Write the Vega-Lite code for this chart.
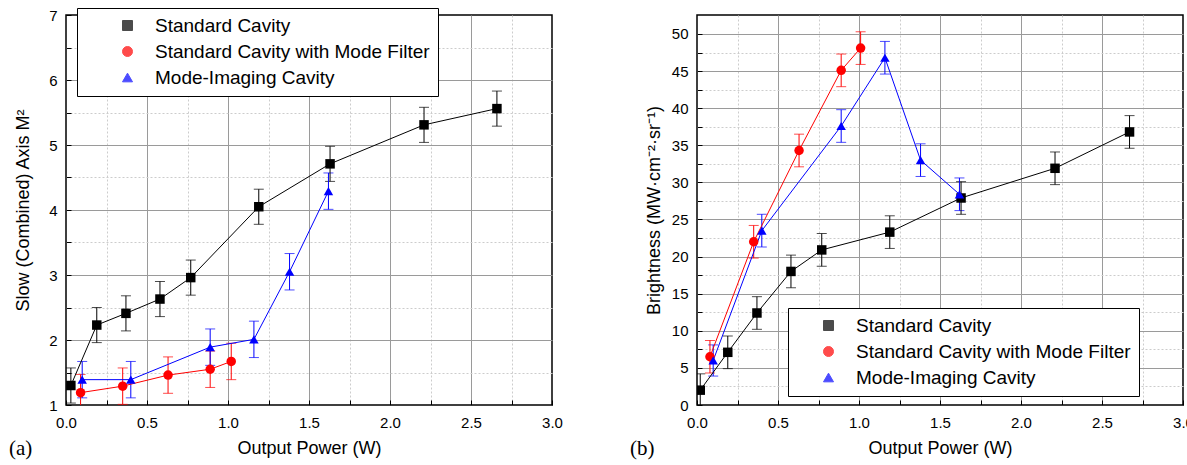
{
  "$schema": "https://vega.github.io/schema/vega-lite/v6.json",
  "padding": {"left": 8, "top": 6, "right": 0, "bottom": 0},
  "background": "white",
  "datasets": {
    "slow": [
      {"s": "Standard Cavity", "p": 0.03, "v": 1.30, "e": 0.27},
      {"s": "Standard Cavity", "p": 0.19, "v": 2.23, "e": 0.27},
      {"s": "Standard Cavity", "p": 0.37, "v": 2.41, "e": 0.27},
      {"s": "Standard Cavity", "p": 0.58, "v": 2.63, "e": 0.27},
      {"s": "Standard Cavity", "p": 0.77, "v": 2.96, "e": 0.27},
      {"s": "Standard Cavity", "p": 1.19, "v": 4.05, "e": 0.27},
      {"s": "Standard Cavity", "p": 1.63, "v": 4.71, "e": 0.27},
      {"s": "Standard Cavity", "p": 2.21, "v": 5.31, "e": 0.27},
      {"s": "Standard Cavity", "p": 2.66, "v": 5.56, "e": 0.27},
      {"s": "Standard Cavity with Mode Filter", "p": 0.09, "v": 1.19, "e": 0.28},
      {"s": "Standard Cavity with Mode Filter", "p": 0.35, "v": 1.29, "e": 0.28},
      {"s": "Standard Cavity with Mode Filter", "p": 0.63, "v": 1.46, "e": 0.28},
      {"s": "Standard Cavity with Mode Filter", "p": 0.89, "v": 1.55, "e": 0.28},
      {"s": "Standard Cavity with Mode Filter", "p": 1.02, "v": 1.67, "e": 0.28},
      {"s": "Mode-Imaging Cavity", "p": 0.10, "v": 1.39, "e": 0.28},
      {"s": "Mode-Imaging Cavity", "p": 0.40, "v": 1.39, "e": 0.28},
      {"s": "Mode-Imaging Cavity", "p": 0.89, "v": 1.89, "e": 0.28},
      {"s": "Mode-Imaging Cavity", "p": 1.16, "v": 2.01, "e": 0.28},
      {"s": "Mode-Imaging Cavity", "p": 1.38, "v": 3.05, "e": 0.28},
      {"s": "Mode-Imaging Cavity", "p": 1.62, "v": 4.29, "e": 0.28}
    ],
    "bright": [
      {"s": "Standard Cavity", "p": 0.02, "v": 2.0, "e": 2.2},
      {"s": "Standard Cavity", "p": 0.19, "v": 7.1, "e": 2.2},
      {"s": "Standard Cavity", "p": 0.37, "v": 12.4, "e": 2.2},
      {"s": "Standard Cavity", "p": 0.58, "v": 18.0, "e": 2.2},
      {"s": "Standard Cavity", "p": 0.77, "v": 20.9, "e": 2.2},
      {"s": "Standard Cavity", "p": 1.19, "v": 23.3, "e": 2.2},
      {"s": "Standard Cavity", "p": 1.63, "v": 27.9, "e": 2.2},
      {"s": "Standard Cavity", "p": 2.21, "v": 31.9, "e": 2.2},
      {"s": "Standard Cavity", "p": 2.67, "v": 36.8, "e": 2.2},
      {"s": "Standard Cavity with Mode Filter", "p": 0.08, "v": 6.5, "e": 2.2},
      {"s": "Standard Cavity with Mode Filter", "p": 0.35, "v": 22.0, "e": 2.2},
      {"s": "Standard Cavity with Mode Filter", "p": 0.63, "v": 34.3, "e": 2.2},
      {"s": "Standard Cavity with Mode Filter", "p": 0.89, "v": 45.1, "e": 2.2},
      {"s": "Standard Cavity with Mode Filter", "p": 1.01, "v": 48.1, "e": 2.2},
      {"s": "Mode-Imaging Cavity", "p": 0.10, "v": 6.0, "e": 2.1},
      {"s": "Mode-Imaging Cavity", "p": 0.40, "v": 23.5, "e": 2.2},
      {"s": "Mode-Imaging Cavity", "p": 0.89, "v": 37.6, "e": 2.2},
      {"s": "Mode-Imaging Cavity", "p": 1.16, "v": 46.8, "e": 2.2},
      {"s": "Mode-Imaging Cavity", "p": 1.38, "v": 33.0, "e": 2.2},
      {"s": "Mode-Imaging Cavity", "p": 1.62, "v": 28.4, "e": 2.2}
    ]
  },
  "hconcat": [
    {
      "width": 486,
      "height": 390,
      "data": {"name": "slow"},
      "title": {"text": "(a)", "orient": "bottom", "anchor": "start", "frame": "group", "font": "Liberation Serif", "fontSize": 21, "fontWeight": "normal", "color": "black", "dx": -57, "offset": -19},
      "encoding": {
        "x": {"field": "p", "type": "quantitative", "scale": {"domain": [0, 3], "nice": false, "zero": false},
          "axis": {"orient": "bottom", "title": "Output Power (W)",
            "values": [0, 0.25, 0.5, 0.75, 1, 1.25, 1.5, 1.75, 2, 2.25, 2.5, 2.75, 3],
            "labelExpr": "datum.value % 0.5 === 0 ? format(datum.value, '.1f') : ''",
            "grid": true,
            "gridColor": {"condition": {"test": "datum.value % 0.5 !== 0", "value": "#cccccc"}, "value": "#9a9a9a"},
            "gridDash": {"condition": {"test": "datum.value % 0.5 !== 0", "value": [2, 2]}, "value": []},
            "gridOpacity": {"condition": {"test": "datum.value <= 0 || datum.value >= 3", "value": 0}, "value": 1},
            "labelPadding": 15, "titlePadding": 9}},
        "y": {"field": "v", "type": "quantitative", "scale": {"domain": [1, 7], "nice": false, "zero": false},
          "axis": {"orient": "left", "title": "Slow (Combined) Axis M²",
            "values": [1, 1.5, 2, 2.5, 3, 3.5, 4, 4.5, 5, 5.5, 6, 6.5, 7],
            "labelExpr": "datum.value % 1 === 0 ? format(datum.value, 'd') : ''",
            "grid": true,
            "gridColor": {"condition": {"test": "datum.value % 1 !== 0", "value": "#cccccc"}, "value": "#9a9a9a"},
            "gridDash": {"condition": {"test": "datum.value % 1 !== 0", "value": [2, 2]}, "value": []},
            "gridOpacity": {"condition": {"test": "datum.value <= 1 || datum.value >= 7", "value": 0}, "value": 1},
            "labelPadding": 14, "titlePadding": 16}},
        "color": {"field": "s", "type": "nominal",
          "scale": {"domain": ["Standard Cavity", "Standard Cavity with Mode Filter", "Mode-Imaging Cavity"], "range": ["#000000", "#ff0000", "#0000ff"]},
          "legend": {"orient": "none", "legendX": 11, "legendY": -7, "title": null, "symbolOffset": 33, "labelOffset": 18}}
      },
      "layer": [
        {
          "mark": {"type": "errorbar", "ticks": {"size": 10, "thickness": 1}, "thickness": 1, "clip": true},
          "encoding": {"yError": {"field": "e"}}
        },
        {
          "mark": {"type": "line", "strokeWidth": 1, "clip": true}
        },
        {
          "mark": {"type": "point", "filled": true, "opacity": 1, "size": 90, "clip": true},
          "encoding": {
            "shape": {"field": "s", "type": "nominal",
              "scale": {"domain": ["Standard Cavity", "Standard Cavity with Mode Filter", "Mode-Imaging Cavity"], "range": ["square", "circle", "triangle-up"]},
              "legend": {"orient": "none", "legendX": 11, "legendY": -7, "title": null, "symbolOffset": 33, "labelOffset": 18}}
          }
        }
      ]
    },
    {
      "width": 486,
      "height": 390,
      "data": {"name": "bright"},
      "title": {"text": "(b)", "orient": "bottom", "anchor": "start", "frame": "group", "font": "Liberation Serif", "fontSize": 21, "fontWeight": "normal", "color": "black", "dx": -67, "offset": -19},
      "encoding": {
        "x": {"field": "p", "type": "quantitative", "scale": {"domain": [0, 3], "nice": false, "zero": false},
          "axis": {"orient": "bottom", "title": "Output Power (W)",
            "values": [0, 0.25, 0.5, 0.75, 1, 1.25, 1.5, 1.75, 2, 2.25, 2.5, 2.75, 3],
            "labelExpr": "datum.value % 0.5 === 0 ? format(datum.value, '.1f') : ''",
            "grid": true,
            "gridColor": {"condition": {"test": "datum.value % 0.5 !== 0", "value": "#cccccc"}, "value": "#9a9a9a"},
            "gridDash": {"condition": {"test": "datum.value % 0.5 !== 0", "value": [2, 2]}, "value": []},
            "gridOpacity": {"condition": {"test": "datum.value <= 0 || datum.value >= 3", "value": 0}, "value": 1},
            "labelPadding": 15, "titlePadding": 9}},
        "y": {"field": "v", "type": "quantitative", "scale": {"domain": [0, 52.56], "nice": false, "zero": false},
          "axis": {"orient": "left", "title": "Brightness (MW·cm⁻²·sr⁻¹)",
            "values": [0, 2.5, 5, 7.5, 10, 12.5, 15, 17.5, 20, 22.5, 25, 27.5, 30, 32.5, 35, 37.5, 40, 42.5, 45, 47.5, 50],
            "labelExpr": "datum.value % 5 === 0 ? format(datum.value, 'd') : ''",
            "grid": true,
            "gridColor": {"condition": {"test": "datum.value % 5 !== 0", "value": "#cccccc"}, "value": "#9a9a9a"},
            "gridDash": {"condition": {"test": "datum.value % 5 !== 0", "value": [2, 2]}, "value": []},
            "gridOpacity": {"condition": {"test": "datum.value <= 0", "value": 0}, "value": 1},
            "labelPadding": 14, "titlePadding": 8}},
        "color": {"field": "s", "type": "nominal",
          "scale": {"domain": ["Standard Cavity", "Standard Cavity with Mode Filter", "Mode-Imaging Cavity"], "range": ["#000000", "#ff0000", "#0000ff"]},
          "legend": {"orient": "none", "legendX": 91, "legendY": 293, "title": null, "symbolOffset": 23, "labelOffset": 18}}
      },
      "layer": [
        {
          "mark": {"type": "errorbar", "ticks": {"size": 10, "thickness": 1}, "thickness": 1, "clip": true},
          "encoding": {"yError": {"field": "e"}}
        },
        {
          "mark": {"type": "line", "strokeWidth": 1, "clip": true}
        },
        {
          "mark": {"type": "point", "filled": true, "opacity": 1, "size": 90, "clip": true},
          "encoding": {
            "shape": {"field": "s", "type": "nominal",
              "scale": {"domain": ["Standard Cavity", "Standard Cavity with Mode Filter", "Mode-Imaging Cavity"], "range": ["square", "circle", "triangle-up"]},
              "legend": {"orient": "none", "legendX": 91, "legendY": 293, "title": null, "symbolOffset": 23, "labelOffset": 18}}
          }
        }
      ]
    }
  ],
  "spacing": 65,
  "resolve": {
    "scale": {"color": "independent", "shape": "independent"},
    "legend": {"color": "independent", "shape": "independent"}
  },
  "config": {
    "font": "Liberation Sans",
    "view": {"stroke": "black", "strokeWidth": 1.5},
    "scale": {"continuousPadding": 0},
    "axis": {
      "domain": false, "labelFlush": false,
      "tickColor": "black", "tickSize": -5, "tickWidth": 1,
      "labelFont": "Liberation Sans", "labelFontSize": 15, "labelColor": "black",
      "titleFont": "Liberation Sans", "titleFontSize": 18, "titleFontWeight": "normal", "titleColor": "black"
    },
    "legend": {
      "labelFont": "Liberation Sans", "labelFontSize": 19, "labelColor": "black", "labelLimit": 600,
      "strokeColor": "black", "fillColor": "white", "padding": 8, "rowPadding": 6, "symbolSize": 100,
      "symbolStrokeWidth": 1
    },
    "title": {"color": "black"}
  }
}
